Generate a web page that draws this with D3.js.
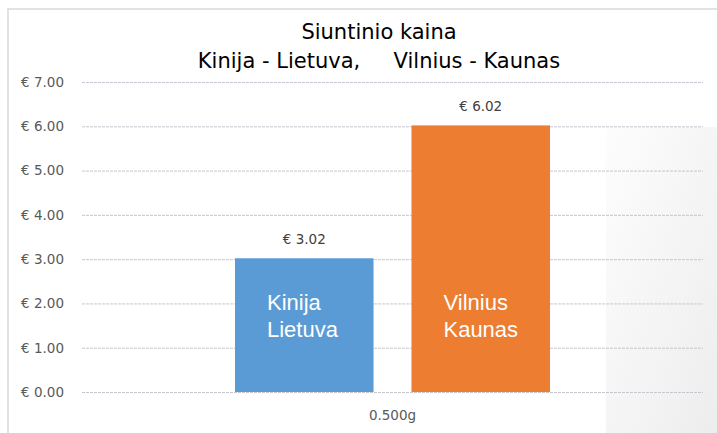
<!DOCTYPE html>
<html>
<head>
<meta charset="utf-8">
<script src="https://cdn.jsdelivr.net/npm/d3@7"></script>
<style>
  body { margin: 0; background: #fff; }
  svg { display: block; font-family: "DejaVu Sans", sans-serif; }
</style>
</head>
<body>
<script>
// Chart data.
var categories = ["0.500g"];
var series = ["Kinija - Lietuva", "Vilnius - Kaunas"];
var seriesLabels = [["Kinija", "Lietuva"], ["Vilnius", "Kaunas"]];
var values = [3.02, 6.02];
var yTicks = [0, 1, 2, 3, 4, 5, 6, 7];
var titleLines = ["Siuntinio kaina", "Kinija - Lietuva,     Vilnius - Kaunas"];
var colors = ["#5B9BD5", "#ED7D31"];

var plotWidth = 717;
var plotHeight = 433;
var margin = { top: 82, right: 14, bottom: 41, left: 82 };
var width = plotWidth - margin.left - margin.right;
var height = plotHeight - margin.top - margin.bottom;

var svg = d3.select("body").append("svg")
            .attr("width", plotWidth)
            .attr("height", plotHeight);

// Soft shading at the right side, like the original screenshot.
var defs = svg.append("defs");
var grad = defs.append("linearGradient")
               .attr("id", "shade")
               .attr("x1", "0").attr("y1", "0")
               .attr("x2", "1").attr("y2", "1");
grad.append("stop").attr("offset", "0").attr("stop-color", "#fdfdfd");
grad.append("stop").attr("offset", "1").attr("stop-color", "#ededed");
svg.append("rect")
   .attr("x", 606).attr("y", 127)
   .attr("width", plotWidth - 606).attr("height", plotHeight - 127)
   .attr("fill", "url(#shade)");

// Chart frame.
svg.append("rect")
   .attr("x", 8).attr("y", 9)
   .attr("width", plotWidth).attr("height", plotHeight)
   .attr("fill", "none")
   .attr("stroke", "#d9d9d9")
   .attr("stroke-width", 1.5);

// Title.
svg.append("text")
   .attr("x", 379)
   .attr("y", 39)
   .attr("text-anchor", "middle")
   .style("font-size", "21px")
   .style("fill", "#000")
   .style("white-space", "pre")
   .selectAll("tspan")
   .data(titleLines)
   .enter()
   .append("tspan")
   .attr("x", 379)
   .attr("dy", function (d, i) { return i === 0 ? 0 : 29; })
   .text(function (d) { return d; });

var g = svg.append("g")
           .attr("transform", "translate(" + margin.left + ", " + margin.top + ")");

var yScale = d3.scaleLinear()
               .domain([0, 7])
               .range([height, 0]);

var xScale = d3.scaleBand()
               .domain(categories)
               .range([0, width])
               .paddingInner(0)
               .paddingOuter(0.4857);

var xSub = d3.scaleBand()
             .domain(series)
             .range([0, xScale.bandwidth()])
             .paddingInner(0.215);

// Y axis with grid lines.
var yAxis = g.append("g")
             .attr("class", "y_axis")
             .call(d3.axisLeft(yScale)
                     .tickValues(yTicks)
                     .tickSize(-width)
                     .tickPadding(18)
                     .tickFormat(function (d) { return "€ " + d3.format(".2f")(d); }));
yAxis.select(".domain").remove();
yAxis.selectAll("line")
     .attr("stroke", "#c6c6ce")
     .attr("stroke-width", 1)
     .attr("stroke-dasharray", "3,1");
yAxis.selectAll("text")
     .style("font-size", "13.5px")
     .style("font-family", "DejaVu Sans, sans-serif")
     .attr("fill", "#595959");

// X axis label.
var xAxis = g.append("g")
             .attr("transform", "translate(0, " + height + ")")
             .call(d3.axisBottom(xScale).tickSize(0).tickPadding(18));
xAxis.select(".domain").remove();
xAxis.selectAll("text")
     .style("font-size", "13.5px")
     .style("font-family", "DejaVu Sans, sans-serif")
     .attr("fill", "#595959");

// Bars.
var bars = g.append("g").attr("class", "bars")
            .attr("transform", "translate(" + xScale(categories[0]) + ", 0)");

bars.selectAll("rect")
    .data(values)
    .enter()
    .append("rect")
    .attr("x", function (d, i) { return xSub(series[i]); })
    .attr("y", function (d) { return yScale(d); })
    .attr("width", xSub.bandwidth())
    .attr("height", function (d) { return height - yScale(d); })
    .attr("fill", function (d, i) { return colors[i]; });

// Value labels above the bars.
bars.selectAll(".value")
    .data(values)
    .enter()
    .append("text")
    .attr("class", "value")
    .attr("x", function (d, i) { return xSub(series[i]) + xSub.bandwidth() / 2; })
    .attr("y", function (d) { return yScale(d) - 14; })
    .attr("text-anchor", "middle")
    .style("font-size", "13.5px")
    .attr("fill", "#404040")
    .text(function (d) { return "€ " + d3.format(".2f")(d); });

// Labels inside the bars.
bars.selectAll(".inner")
    .data(seriesLabels)
    .enter()
    .append("text")
    .attr("class", "inner")
    .attr("y", yScale(1.85))
    .style("font-size", "22px")
    .style("font-family", "Liberation Sans, Arial, sans-serif")
    .attr("fill", "#fff")
    .each(function (d, i) {
        var t = d3.select(this);
        d.forEach(function (line, j) {
            t.append("tspan")
             .attr("x", xSub(series[i]) + 32)
             .attr("dy", j === 0 ? 0 : 27)
             .text(line);
        });
    });
</script>
</body>
</html>
